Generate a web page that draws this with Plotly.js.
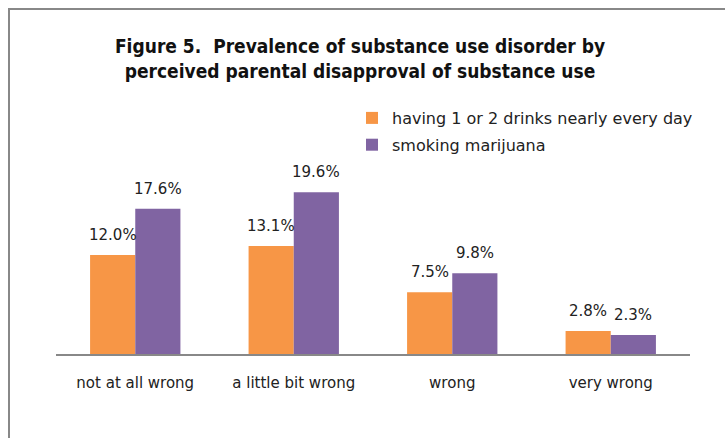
<!DOCTYPE html>
<html>
<head>
<meta charset="utf-8">
<script src="https://cdn.plot.ly/plotly-3.0.1.min.js"></script>
<style>
html,body{margin:0;padding:0;background:#fff}
#wrap{position:relative;width:725px;height:438px;overflow:hidden}
#chart{width:725px;height:438px}
#frame{position:absolute;left:8px;top:8px;width:760px;height:480px;border-left:2px solid #888;border-top:2px solid #888;pointer-events:none;z-index:10}
</style>
</head>
<body>
<div id="wrap"><div id="chart"></div><div id="frame"></div></div>
<script>
const categories = ["not at all wrong", "a little bit wrong", "wrong", "very wrong"];
const drinksValues = [12.0, 13.1, 7.5, 2.8];
const marijuanaValues = [17.6, 19.6, 9.8, 2.3];
const seriesNames = ["having 1 or 2 drinks nearly every day", "smoking marijuana"];
const titleLines = ["Figure 5.  Prevalence of substance use disorder by", "perceived parental disapproval of substance use"];

const fontMain = "DejaVu Sans, sans-serif";
const fmt = v => v.toFixed(1) + "%";

const traces = [
  {type: "bar", name: seriesNames[0], x: categories, y: drinksValues, legendgroup: "a",
   marker: {color: "#F79646"}, hoverinfo: "none"},
  {type: "bar", name: seriesNames[1], x: categories, y: marijuanaValues, legendgroup: "b",
   marker: {color: "#8064A2"}, hoverinfo: "none"}
];

const L = 56, R = 35, T = 160, B = 84;
const W = 725 - L - R, H = 438 - T - B;
const px2x = p => (p - L) / W;
const px2y = p => (438 - B - p) / H;

const annotations = [];
const labelFont = {family: fontMain, size: 15, color: "#222"};
categories.forEach((c, i) => {
  annotations.push({x: c, y: drinksValues[i], xref: "x", yref: "y", text: fmt(drinksValues[i]),
    showarrow: false, yanchor: "bottom", xshift: -22.5, yshift: 9, font: labelFont});
  annotations.push({x: c, y: marijuanaValues[i], xref: "x", yref: "y", text: fmt(marijuanaValues[i]),
    showarrow: false, yanchor: "bottom", xshift: 22.5, yshift: 9, font: labelFont});
});

const layout = {
  width: 725, height: 438,
  margin: {l: L, r: R, t: T, b: B, pad: 0},
  paper_bgcolor: "#fff", plot_bgcolor: "#fff",
  barmode: "group", bargap: 0.43, bargroupgap: 0,
  showlegend: true,
  legend: {x: px2x(352), y: px2y(101), xanchor: "left", yanchor: "top",
           font: {family: fontMain, size: 16, color: "#222"}, tracegroupgap: 3,
           bgcolor: "rgba(0,0,0,0)", itemwidth: 30},
  title: {text: titleLines.join("<br>"), x: 360 / 725, xref: "container", xanchor: "center",
          y: 1 - 53 / 438, yanchor: "top", yref: "container",
          font: {family: "Liberation Sans Narrow, DejaVu Sans Condensed, sans-serif", size: 19, color: "#111", weight: "bold"}},
  xaxis: {type: "category", showgrid: false, zeroline: false, showline: true,
          linecolor: "#888", linewidth: 1.5, ticks: "outside", ticklen: 14,
          tickcolor: "rgba(0,0,0,0)", tickfont: {family: fontMain, size: 15, color: "#222"},
          fixedrange: true},
  yaxis: {range: [0, H / 8.25], showgrid: false, zeroline: false, showline: false,
          showticklabels: false, ticks: "", fixedrange: true},
  annotations: annotations
};

Plotly.newPlot("chart", traces, layout, {displayModeBar: false, staticPlot: true});
</script>
</body>
</html>
